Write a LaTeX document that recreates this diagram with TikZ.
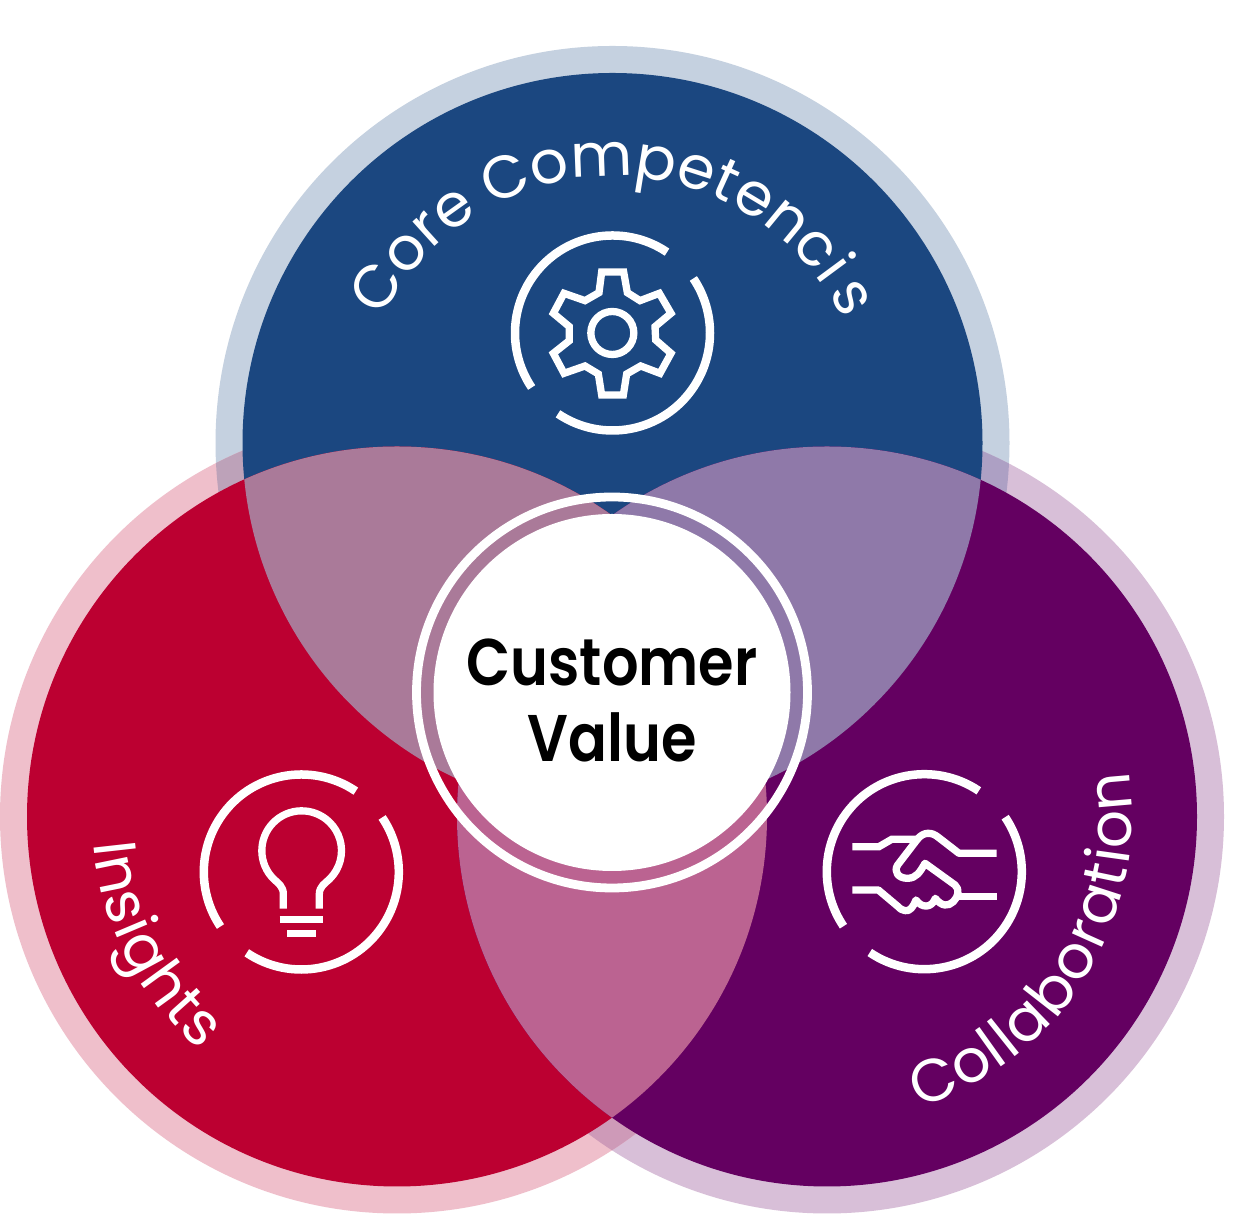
\documentclass[tikz,border=0pt]{standalone}
\usepackage{fontspec}
\usetikzlibrary{decorations.text}
\newfontfamily\cvfont[FakeStretch=0.87]{Poppins SemiBold}
\newfontfamily\arcfont{Poppins}
\definecolor{cblue}{HTML}{1B4780}
\definecolor{cred}{HTML}{BC0031}
\definecolor{cpurple}{HTML}{640061}
\definecolor{hblue}{HTML}{C5D1E0}
\definecolor{hred}{HTML}{EFBFCB}
\definecolor{hpurple}{HTML}{D8BFD8}
\definecolor{hredblue}{HTML}{BDA2B9}
\definecolor{hpurpleblue}{HTML}{ADA0C4}
\definecolor{hredpurple}{HTML}{CE9AB8}
\definecolor{lensTL}{HTML}{AA7A99}
\definecolor{lensTR}{HTML}{8F79A9}
\definecolor{lensLR}{HTML}{BB6391}
\tikzset{
  iconline/.style={draw=white,line width=7.3pt,fill=none,line cap=butt,line join=miter},
  ringline/.style={draw=white,line width=8.5pt,fill=none,line cap=butt},
  arctext/.style={decorate,decoration={text along path,raise=0pt,
    text={|\arcfont\fontsize{60}{60}\selectfont\color{white}|#1},text align=fit to path}},
  arctextleft/.style={decorate,decoration={text along path,raise=0pt,
    text={|\arcfont\fontsize{60}{60}\selectfont\color{white}|#1},text align=left}},
}
\newcommand{\iconring}[2]{%
  \draw[ringline] (#1,#2) ++(-56:97.5) arc (-56:-214:97.5);
  \draw[ringline] (#1,#2) ++(124:97.5) arc (124:-34:97.5);
}
\begin{document}
\begin{tikzpicture}[x=1pt,y=1pt]
\useasboundingbox (0,0) rectangle (1245,1214);
\fill[white] (0,0) rectangle (1245,1214);
\begin{scope}[yshift=1214pt,yscale=-1]
  % halos
  \fill[hblue] (612.5,443) circle (397);
  \fill[hpurple] (827,816.5) circle (397);
  \fill[hred] (397,816.5) circle (397);
  \begin{scope}
    \clip (612.5,443) circle (397);
    \fill[hredblue] (397,816.5) circle (397);
    \fill[hpurpleblue] (827,816.5) circle (397);
  \end{scope}
  \begin{scope}
    \clip (397,816.5) circle (397);
    \fill[hredpurple] (827,816.5) circle (397);
  \end{scope}
  % discs
  \fill[cblue] (612.5,443) circle (370);
  \fill[cred] (397,816.5) circle (370);
  \fill[cpurple] (827,816.5) circle (370);
  % lenses
  \begin{scope}
    \clip (612.5,443) circle (370);
    \fill[lensTL] (397,816.5) circle (370);
    \fill[lensTR] (827,816.5) circle (370);
  \end{scope}
  \begin{scope}
    \clip (397,816.5) circle (370);
    \fill[lensLR] (827,816.5) circle (370);
  \end{scope}
  % centre
  \draw[white,line width=8.8pt] (612,692.5) circle (195.5);
  \fill[white] (612,692.5) circle (178.5);
  % gear icon
  \iconring{612.5}{333}
  \begin{scope}[shift={(490,210)},scale=1/3]
    \draw[iconline] (335,186)--(401,186)--(412,248)--(450,272)--(508,250)--(543,310)--(495,350)--(497,390)--(543,430)--(510,490)--(452,468)--(410,492)--(400,555)--(335,555)--(325,492)--(285,468)--(222,490)--(190,430)--(238,392)--(238,350)--(190,310)--(222,250)--(285,272)--(327,248)--cycle;
    \draw[iconline] (367,369) circle (64.5);
  \end{scope}
  % bulb icon
  \iconring{301.3}{872}
  \begin{scope}[shift={(180,750)},scale=1/3]
    \draw[iconline] (310,476)--(310,432) .. controls (310,410) and (295,400) .. (282,388) arc (134:406:119.5) .. controls (435,400) and (418,410) .. (418,432)--(418,476);
    \draw[iconline] (299,507.5)--(430,507.5);
    \draw[iconline] (321,551.5)--(408,551.5);
  \end{scope}
  % handshake icon
  \iconring{924.3}{871.7}
  \begin{scope}[shift={(810,750)},scale=1/3]
    \draw[iconline] (127,290)--(207,290)--(245,268)--(322,268);
    \draw[iconline,line join=round] (560,310)--(447,310)--(385,262) .. controls (365,245) and (340,245) .. (322,268)--(263,345) .. controls (250,365) and (265,385) .. (292,385) .. controls (320,385) and (330,365) .. (345,340)--(435,405) .. controls (450,418) and (445,440) .. (430,455) .. controls (415,470) and (395,470) .. (376,445) .. controls (365,475) and (335,475) .. (318,450) .. controls (310,470) and (300,485) .. (285,482) .. controls (275,482) and (270,475) .. (262,468)--(205,420)--(127,420);
    \draw[iconline] (445,440)--(560,440);
  \end{scope}
\end{scope}
% y-up coordinates from here: (x, 1214-y)
\path[arctext={Core}] (612.5,781) ++(153.5:257) arc[start angle=153.5,end angle=124,radius=257];
\path[arctext={Competencie}] (612.5,781) ++(118:257) arc[start angle=118,end angle=33.5,radius=257];
\path[arctextleft={s}] (612.5,781) ++(33:257) arc[start angle=33,end angle=15,radius=257];
\path[arctext={Insights}] (397,397.5) ++(185:305) arc[start angle=185,end angle=230,radius=305];
\path[arctext={Collaboration}] (827,397.5) ++(-72.5:305) arc[start angle=-72.5,end angle=8.5,radius=305];
\node[font=\cvfont\fontsize{66}{76}\selectfont,align=center,text=black] (cv) at (612,514) {Customer\\Value};
\end{tikzpicture}
\end{document}
